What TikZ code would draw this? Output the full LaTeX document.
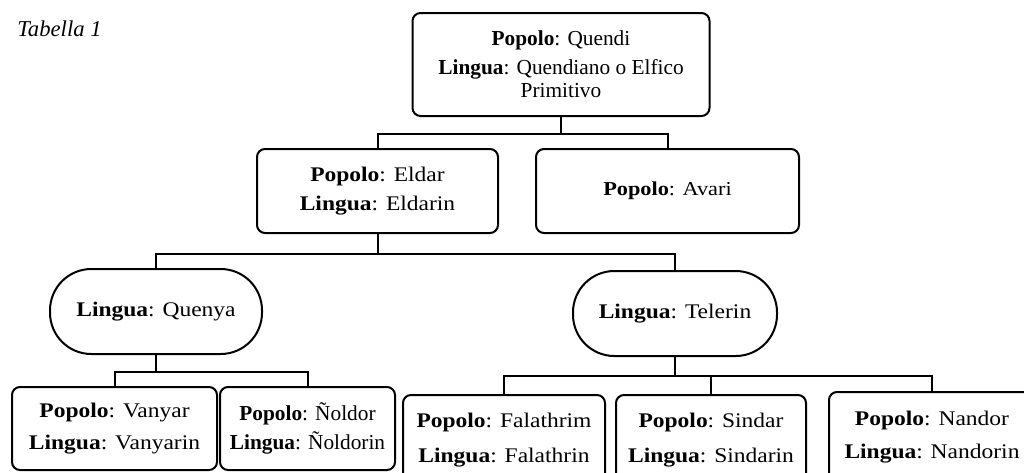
\documentclass[tikz,border=0pt]{standalone}
\usepackage{fontspec}
\setmainfont{Liberation Serif}
\newfontfamily\widefont{Liberation Serif}[FakeStretch=1.13]
\usepackage{tikz}

\newcommand{\wide}[1]{\widefont\fontsize{#1}{17.25}\selectfont}
\newcommand{\plain}[1]{\fontsize{#1}{17.25}\selectfont}

\begin{document}
\begin{tikzpicture}[x=0.75pt, y=-0.75pt, line width=1.5pt,
    popolo/.style={draw, rounded corners=6pt, align=center, inner sep=2pt, font=\wide{15.6}},
    lingua/.style={popolo, rounded corners=31pt}]
			\clip (0,0) rectangle (1024,472);

			\node[anchor=base west, font=\plain{17}\itshape] (tab) at (12,36) {Tabella 1};

			\node[popolo, minimum width=222.75pt, minimum height=77.25pt, font=\plain{16}] (quendi) at (561,64.5)
				{\textbf{Popolo}: Quendi\\[4.5pt]\textbf{Lingua}: Quendiano o Elfico\\Primitivo};
			\node[popolo, minimum width=180.75pt, minimum height=63pt] (eldar) at (377.5,191)
				{\textbf{Popolo}: Eldar\\[4pt]\textbf{Lingua}: Eldarin};
			\node[popolo, minimum width=197.25pt, minimum height=63pt, font=\wide{14.8}] (avari) at (667.5,191)
				{\textbf{Popolo}: Avari};

			\node[lingua, minimum width=159pt, minimum height=63.75pt] (quenya) at (156,311.5)
				{\textbf{Lingua}: Quenya};
			\node[lingua, minimum width=153pt, minimum height=63.75pt] (telerin) at (675,313.5)
				{\textbf{Lingua}: Telerin};

			\node[popolo, minimum width=153.75pt, minimum height=62.25pt] (vanyar) at (114.5,428.5)
				{\textbf{Popolo}: Vanyar\\[6.25pt]\textbf{Lingua}: Vanyarin};
			\node[popolo, minimum width=131.25pt, minimum height=62.25pt, font=\plain{16}] (noldor) at (307.5,428.5)
				{\textbf{Popolo}: Ñoldor\\[4.5pt]\textbf{Lingua}: Ñoldorin};
			\node[popolo, minimum width=151.5pt, minimum height=67.5pt] (falathrim) at (504,440)
				{\textbf{Popolo}: Falathrim\\[8.5pt]\textbf{Lingua}: Falathrin};
			\node[popolo, minimum width=142.5pt, minimum height=67.5pt] (sindar) at (711,440)
				{\textbf{Popolo}: Sindar\\[8.5pt]\textbf{Lingua}: Sindarin};
			\node[popolo, minimum width=154.5pt, minimum height=67.5pt] (nandor) at (932,437)
				{\textbf{Popolo}: Nandor\\[7.75pt]\textbf{Lingua}: Nandorin};

			\draw (quendi.south) -- ++(0,17) -| (eldar.north);
			\draw (quendi.south) -- ++(0,17) -| (avari.north);
			\draw (eldar.south) -- ++(0,20) -| (quenya.north);
			\draw (eldar.south) -- ++(0,20) -| (telerin.north);
			\draw (quenya.south) -- ++(0,17) -| (vanyar.north);
			\draw (quenya.south) -- ++(0,17) -| (noldor.north);
			\draw (telerin.south) -- ++(0,19) -| (falathrim.north);
			\draw (telerin.south) -- ++(0,19) -| (sindar.north);
			\draw (telerin.south) -- ++(0,19) -| (nandor.north);
		\end{tikzpicture}
\end{document}
